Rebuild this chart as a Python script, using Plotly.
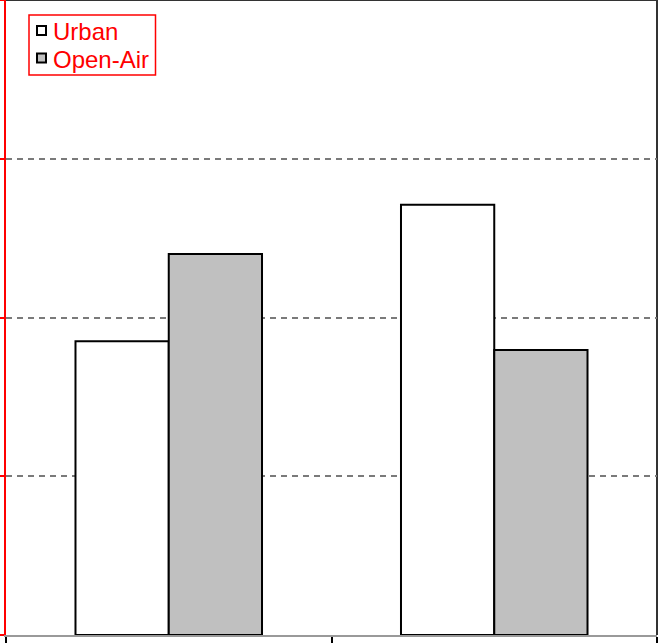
import plotly.graph_objects as go

# data (tick labels are cut off in the picture)
categories = ["Group 1", "Group 2"]
urban = [37.0, 54.2]
open_air = [48.0, 35.9]
y_ticks = [0, 20, 40, 60, 80]
series_names = ["Urban", "Open-Air"]
series_fills = ["white", "#c0c0c0"]

W, H = 658, 643
ML, MR, MT, MB = 6, 1, 0, 8
PW, PH = W - ML - MR, H - MT - MB


def px(x):
    return (x - ML) / PW


def py(y):
    return 1 - (y - MT) / PH


fig = go.Figure()
for name, vals, fill in zip(series_names, [urban, open_air], series_fills):
    fig.add_trace(go.Bar(x=categories, y=vals, name=name, showlegend=False,
                         marker=dict(color=fill, line=dict(color="black", width=2))))

# dark frame on the top and right of the plot area
fig.add_shape(type="path", xref="paper", yref="paper", path="M 0,1 L 1,1 L 1,0",
              line=dict(color="#333333", width=2), layer="below")

# legend box drawn by hand to match the compact original
fig.add_shape(type="rect", xref="paper", yref="paper",
              x0=px(29), x1=px(155.5), y0=py(75), y1=py(15),
              line=dict(color="red", width=1.5), fillcolor="white")
for i, (name, fill) in enumerate(zip(series_names, series_fills)):
    yc = 30.5 + i * 27.5
    fig.add_shape(type="rect", xref="paper", yref="paper",
                  x0=px(37), x1=px(46), y0=py(yc + 4.5), y1=py(yc - 4.5),
                  line=dict(color="black", width=2), fillcolor=fill)
    fig.add_annotation(x=px(51), y=py(yc + 1), xref="paper", yref="paper",
                       text=name, showarrow=False, xanchor="left", yanchor="middle",
                       font=dict(size=24, color="red"))

fig.update_layout(
    width=W, height=H,
    margin=dict(l=ML, r=MR, t=MT, b=MB),
    paper_bgcolor="white", plot_bgcolor="white",
    barmode="group", bargap=0.427, bargroupgap=0,
    font=dict(family="Liberation Sans, Arial", size=22, color="red"),
    showlegend=False,
)
fig.update_xaxes(showline=True, linecolor="#999999", linewidth=1.5,
                 ticks="outside", tickson="boundaries", ticklen=8,
                 tickcolor="black", tickwidth=1.5, showticklabels=False,
                 showgrid=False, zeroline=False)
fig.update_yaxes(range=[0, 80], tickvals=y_ticks, showline=True,
                 linecolor="red", linewidth=1.5, ticks="outside", ticklen=5,
                 tickcolor="red", tickwidth=1.5, showticklabels=False,
                 showgrid=True, gridcolor="#7a7a7a", gridwidth=1.5,
                 griddash="6px,5px", zeroline=False)

fig.write_html("out.html", config={"displayModeBar": False},
               post_script="document.body.style.margin='0';")
